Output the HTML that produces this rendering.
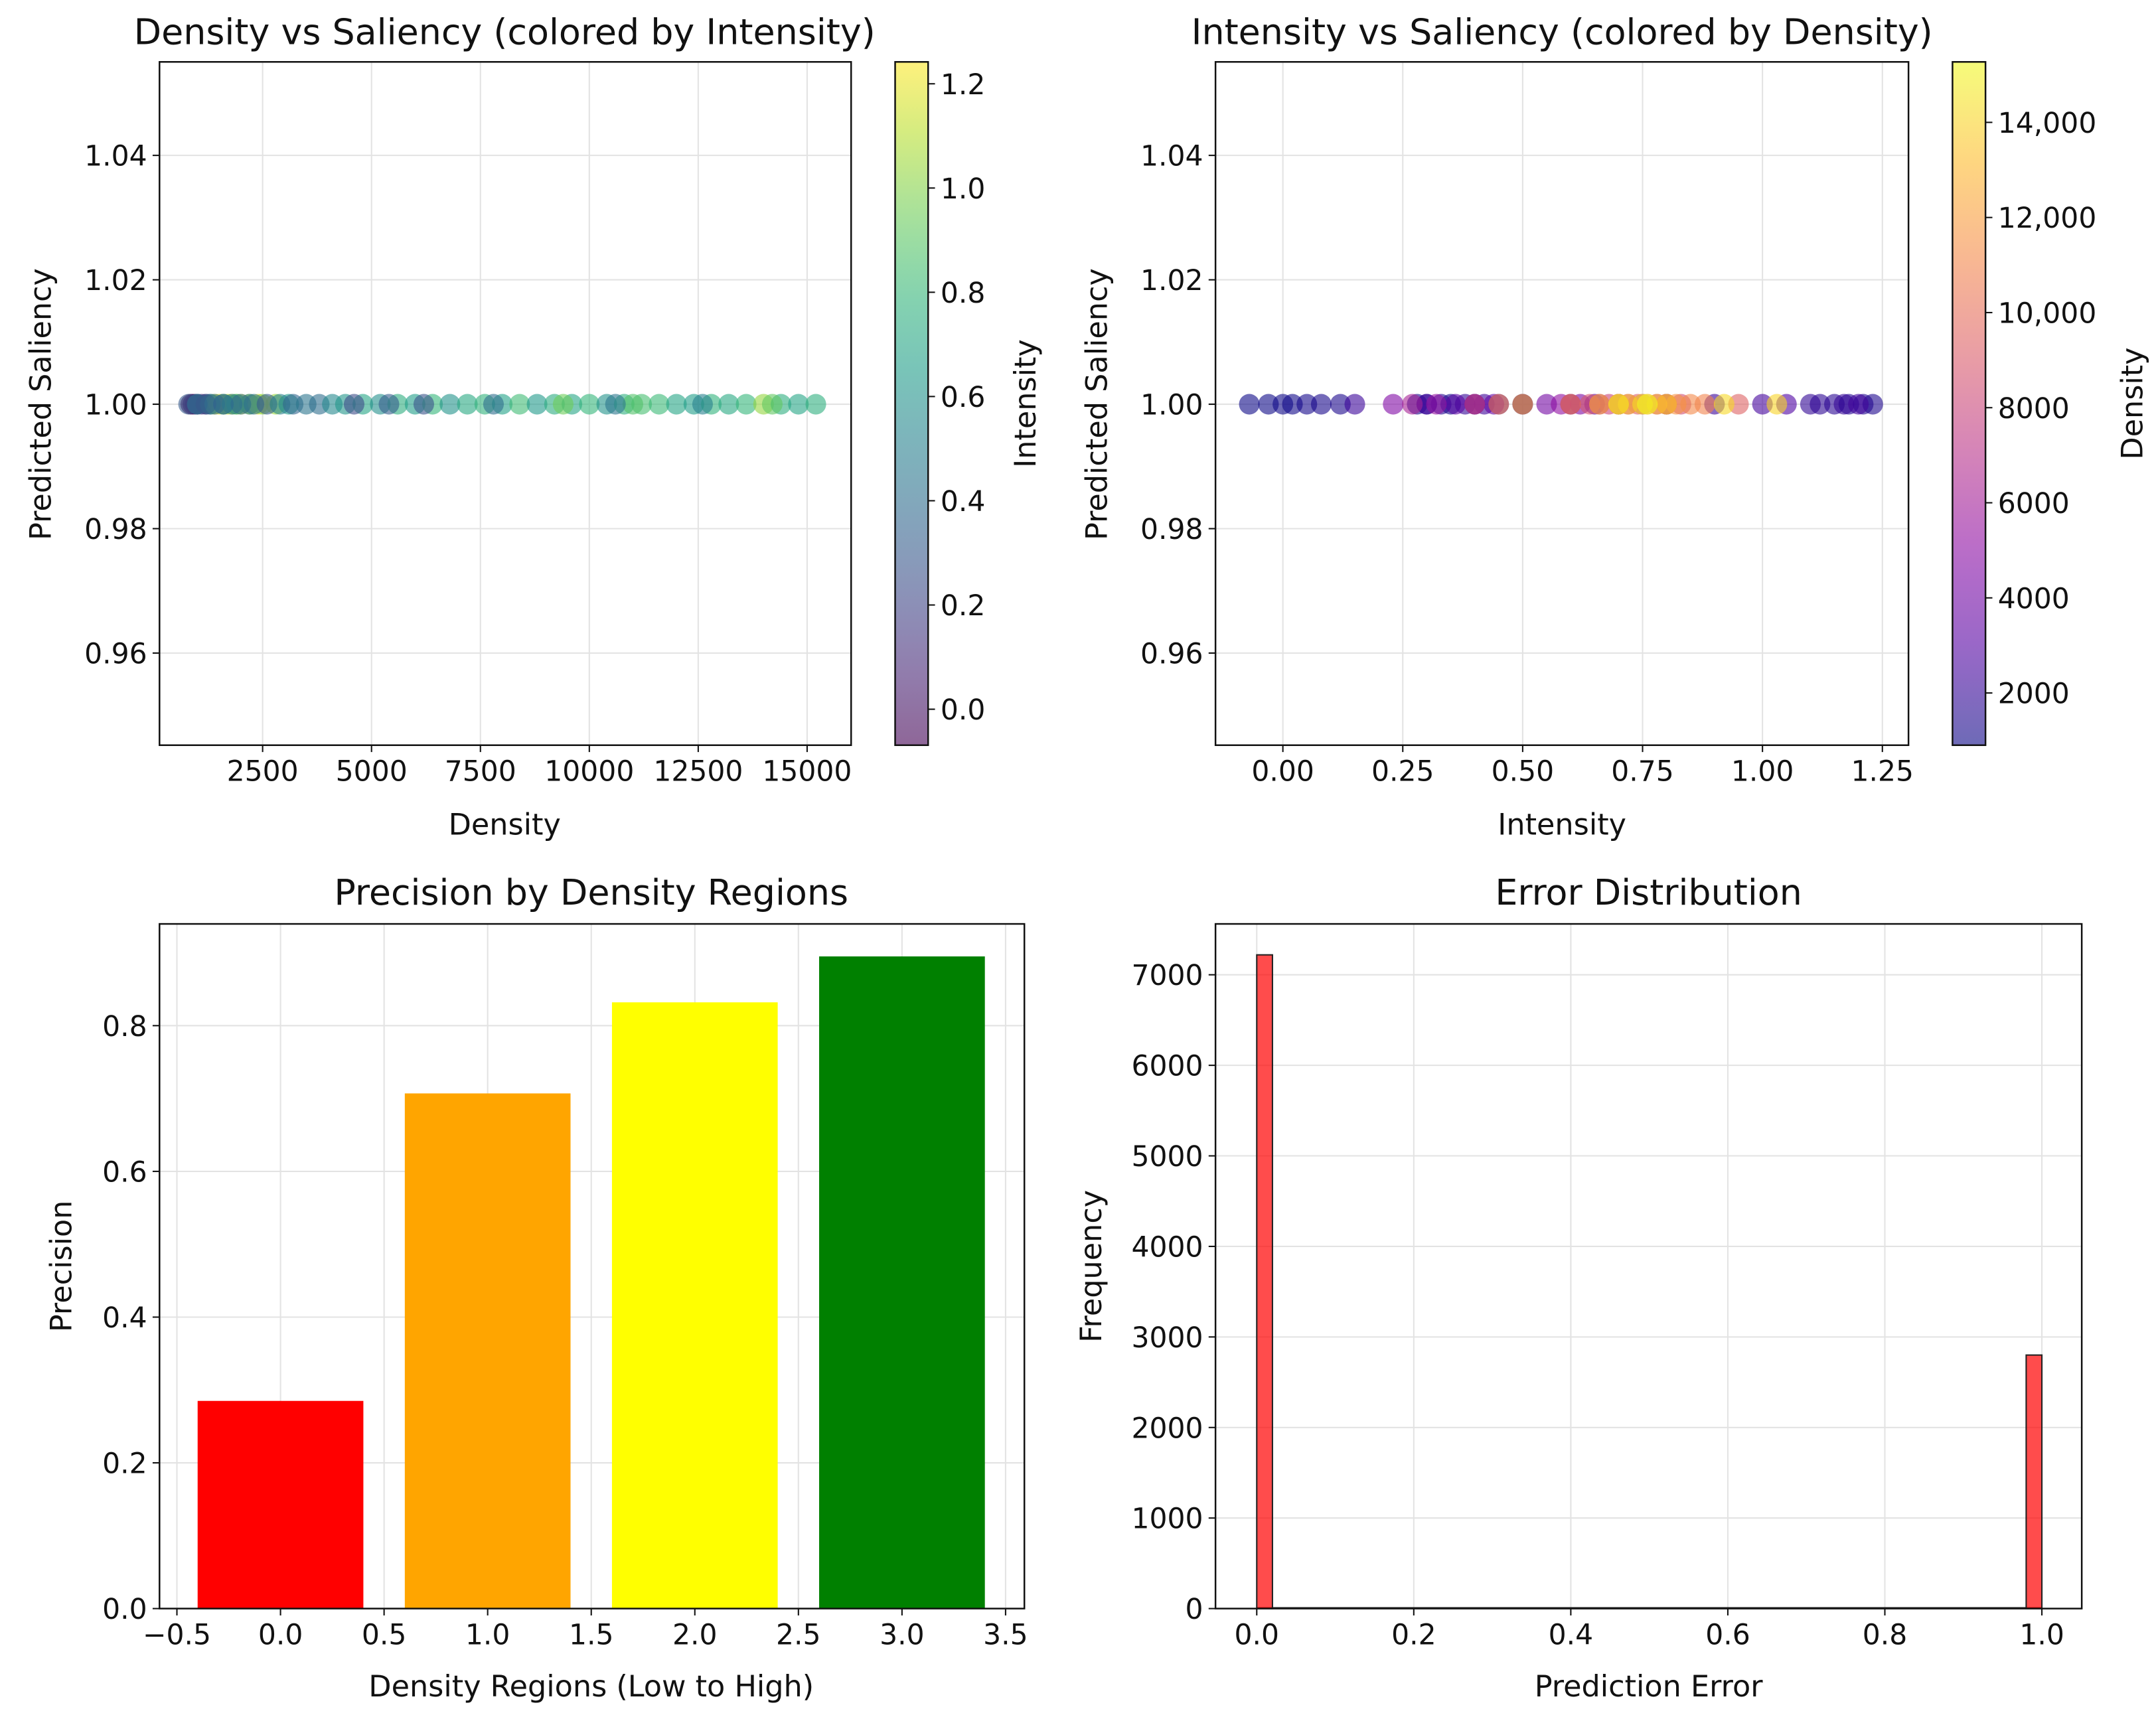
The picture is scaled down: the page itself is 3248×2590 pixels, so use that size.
<!DOCTYPE html>
<html><head><meta charset="utf-8"><style>
html,body{margin:0;padding:0;background:#fff}
svg{display:block}
text{font-family:"DejaVu Sans","Liberation Sans",sans-serif;fill:#111}
</style></head><body>
<svg id="fig" width="3248" height="2590" viewBox="0 0 1568 1250.3" xmlns="http://www.w3.org/2000/svg"></svg>
<script>
// ---- data ----
const densities = [850,900,950,1000,1100,1200,1300,1400,1500,1600,1700,1800,1900,2000,2200,2400,
  1000,1300,1600,1900,2200,2500,2800,3100,
  800,1000,1200,1400,1600,1800,2000,2300,2600,2900,3200,3500,3800,4100,
  4400,4800,5200,5600,6000,6400,6800,7200,7600,8000,8400,8800,9200,9600,10000,10400,10800,11200,11600,12000,12400,12800,13200,13600,14000,14400,14800,15200,
  4600,6200,7800,9400,11000,12600,14200,5400,10600];
const intensities = [-0.07,-0.03,0.0,0.02,0.05,0.08,0.12,1.23,1.21,1.18,1.15,1.12,1.1,1.17,0.15,1.2,
  0.5,0.6,0.7,0.8,0.9,1.0,1.05,0.65,
  0.3,0.35,0.28,0.4,0.33,0.45,0.38,0.42,0.3,0.5,0.36,0.44,0.4,0.55,
  0.62,0.7,0.58,0.75,0.66,0.8,0.6,0.72,0.78,0.68,0.83,0.64,0.74,0.7,0.8,0.6,0.76,0.85,0.82,0.7,0.66,0.78,0.72,0.8,1.03,0.75,0.7,0.76,
  0.23,0.27,0.4,0.95,0.88,0.5,0.92,0.32,0.45];
const precisionCats = [0,1,2,3];
const precisionVals = [0.285,0.707,0.832,0.895];
const precisionColors = ["#ff0000","#ffa500","#ffff00","#008000"];
const histEdgesStart = [0.0,0.98];
const histCounts = [7220,2800];
const p1XTicks = [2500,5000,7500,10000,12500,15000];
const p1YTicks = [0.96,0.98,1.00,1.02,1.04];
const cb1Ticks = [0.0,0.2,0.4,0.6,0.8,1.0,1.2];
const p2XTicks = [0,0.25,0.5,0.75,1.0,1.25];
const cb2Ticks = [2000,4000,6000,8000,10000,12000,14000];
const cb2Labels = ["2000","4000","6000","8000","10,000","12,000","14,000"];
const p3XTicks = [-0.5,0,0.5,1,1.5,2,2.5,3,3.5];
const p3YTicks = [0,0.2,0.4,0.6,0.8];
const p4XTicks = [0,0.2,0.4,0.6,0.8,1.0];
const p4YTicks = [0,1000,2000,3000,4000,5000,6000,7000];

const NS="http://www.w3.org/2000/svg";
const svg=document.getElementById('fig');
const TS=20.5, LS=21.5, HS=26;
function mk(tag,attrs,parent){const e=document.createElementNS(NS,tag);for(const k in attrs)e.setAttribute(k,attrs[k]);(parent||svg).appendChild(e);return e;}
function txt(s,x,y,size,anchor,parent,rot){const t=mk('text',{x:x,y:y,'font-size':size,'text-anchor':anchor||'middle'},parent);if(rot)t.setAttribute('transform',`rotate(${rot} ${x} ${y})`);t.textContent=s;return t;}
function lerpStops(stops,t){t=Math.max(0,Math.min(1,t));const n=stops.length-1;const i=Math.min(n-1,Math.floor(t*n));const f=t*n-i;const a=stops[i],b=stops[i+1];return `rgb(${Math.round(a[0]+(b[0]-a[0])*f)},${Math.round(a[1]+(b[1]-a[1])*f)},${Math.round(a[2]+(b[2]-a[2])*f)})`;}
const viridis=[[68,1,84],[72,40,120],[62,74,137],[49,104,142],[38,130,142],[31,158,137],[53,183,121],[109,205,89],[180,222,44],[253,231,37]];
const plasma=[[13,8,135],[84,2,163],[139,10,165],[185,50,137],[219,92,104],[244,136,73],[254,188,43],[240,249,33]];
function scale(d0,d1,r0,r1){return v=>r0+(v-d0)/(d1-d0)*(r1-r0);}
function fmt(v,d){return v.toFixed(d);}

function axesFrame(g,L,R,T,B,name){
  const r=mk('rect',{x:L,y:T,width:R-L,height:B-T,fill:'none',stroke:'#111','stroke-width':1.2},g);
  
  
}
function gridX(g,xs,T,B){xs.forEach(x=>mk('line',{x1:x,x2:x,y1:T,y2:B,stroke:'#e3e3e3','stroke-width':1},g));}
function gridY(g,ys,L,R){ys.forEach(y=>mk('line',{x1:L,x2:R,y1:y,y2:y,stroke:'#e3e3e3','stroke-width':1},g));}
function xTicks(g,vals,labels,sx,B){vals.forEach((v,i)=>{const x=sx(v);mk('line',{x1:x,x2:x,y1:B,y2:B+5,stroke:'#111','stroke-width':1},g);txt(labels[i],x,B+26,TS,'middle',g);});}
function yTicks(g,vals,labels,sy,L){vals.forEach((v,i)=>{const y=sy(v);mk('line',{x1:L-5,x2:L,y1:y,y2:y,stroke:'#111','stroke-width':1},g);txt(labels[i],L-9,y+7.5,TS,'end',g);});}
function colorbar(g,L,T,W,H,stops,vmin,vmax,ticks,labels,label,lx,name){
  const gid='grad'+name;
  const defs=mk('defs',{},g);const lg=mk('linearGradient',{id:gid,x1:0,y1:1,x2:0,y2:0},defs);
  for(let i=0;i<=20;i++){mk('stop',{offset:i/20,'stop-color':lerpStops(stops,i/20),'stop-opacity':0.6},lg);}
  const r=mk('rect',{x:L,y:T,width:W,height:H,fill:`url(#${gid})`,stroke:'#111','stroke-width':1.2},g);
  
  
  const sy=scale(vmin,vmax,T+H,T);
  ticks.forEach((v,i)=>{const y=sy(v);mk('line',{x1:L+W,x2:L+W+5,y1:y,y2:y,stroke:'#111','stroke-width':1},g);txt(labels[i],L+W+9,y+7.5,TS,'start',g);});
  const t=txt(label,lx,(T+T+H)/2,LS,'middle',g,-90);
  
  
}

// ---- Panel 1 ----
(function(){
  const g=mk('g',{});
  const L=116,R=619,T=45,B=542;
  const sx=scale(2500,15000,191,587), sy=scale(0.96,1.04,475,113);
  gridX(g,p1XTicks.map(sx),T,B);gridY(g,p1YTicks.map(sy),L,R);
  const cs=scale(-0.069,1.242,0,1);
  densities.forEach((d,i)=>{const c=mk('circle',{cx:sx(d),cy:sy(1.0),r:7.5,fill:lerpStops(viridis,cs(intensities[i])),'fill-opacity':0.6},g);
    
    });
  axesFrame(g,L,R,T,B,'plot-area-1');
  xTicks(g,p1XTicks,p1XTicks.map(String),sx,B);
  yTicks(g,p1YTicks,p1YTicks.map(v=>fmt(v,2)),sy,L);
  const t1=txt('Density vs Saliency (colored by Intensity)',367,32,HS,'middle',g);
  
  
  const x1=txt('Density',367,607,LS,'middle',g);
  
  
  const y1=txt('Predicted Saliency',37,294,LS,'middle',g,-90);
  
  
  colorbar(g,651,45,24,497,viridis,-0.069,1.242,cb1Ticks,cb1Ticks.map(v=>fmt(v,1)),'Intensity',753,'colorbar-intensity');
})();

// ---- Panel 2 ----
(function(){
  const g=mk('g',{});
  const L=884,R=1388,T=45,B=542;
  const sx=scale(0,1.25,933,1369), sy=scale(0.96,1.04,475,113);
  gridX(g,p2XTicks.map(sx),T,B);gridY(g,p1YTicks.map(sy),L,R);
  const cs=scale(902,15272,0,1);
  intensities.forEach((v,i)=>{const c=mk('circle',{cx:sx(v),cy:sy(1.0),r:7.5,fill:lerpStops(plasma,cs(densities[i])),'fill-opacity':0.6},g);
    
    });
  axesFrame(g,L,R,T,B,'plot-area-2');
  xTicks(g,p2XTicks,p2XTicks.map(v=>fmt(v,2)),sx,B);
  yTicks(g,p1YTicks,p1YTicks.map(v=>fmt(v,2)),sy,L);
  const t2=txt('Intensity vs Saliency (colored by Density)',1136,32,HS,'middle',g);
  
  
  const x2=txt('Intensity',1136,607,LS,'middle',g);
  
  
  const y2=txt('Predicted Saliency',805,294,LS,'middle',g,-90);
  
  
  colorbar(g,1420,45,24,497,plasma,902,15272,cb2Ticks,cb2Labels,'Density',1558,'colorbar-density');
})();

// ---- Panel 3 ----
(function(){
  const g=mk('g',{});
  const L=116,R=745,T=672,B=1170;
  const sx=scale(0,3,204,656), sy=scale(0,0.8,1170,746);
  gridX(g,p3XTicks.map(sx),T,B);gridY(g,p3YTicks.map(sy),L,R);
  precisionCats.forEach((c,i)=>{const x0=sx(c-0.4),x1=sx(c+0.4),y=sy(precisionVals[i]);
    const r=mk('rect',{x:x0,y:y,width:x1-x0,height:sy(0)-y,fill:precisionColors[i]},g);
    
    });
  axesFrame(g,L,R,T,B,'plot-area-3');
  xTicks(g,p3XTicks,p3XTicks.map(v=>fmt(v,1).replace('-','−')),sx,B);
  yTicks(g,p3YTicks,p3YTicks.map(v=>fmt(v,1)),sy,L);
  const t3=txt('Precision by Density Regions',430,658,HS,'middle',g);
  
  
  const x3=txt('Density Regions (Low to High)',430,1234,LS,'middle',g);
  
  
  const y3=txt('Precision',52,921,LS,'middle',g,-90);
  
  
})();

// ---- Panel 4 ----
(function(){
  const g=mk('g',{});
  const L=884,R=1514,T=672,B=1170;
  const sx=scale(0,1,914,1485), sy=scale(0,7000,1170,709);
  gridX(g,p4XTicks.map(sx),T,B);gridY(g,p4YTicks.map(sy),L,R);
  mk('line',{x1:sx(0),x2:sx(1),y1:B-0.5,y2:B-0.5,stroke:'#333','stroke-width':1.2},g);
  histEdgesStart.forEach((s,i)=>{const x0=sx(s),x1=sx(s+0.02),y=sy(histCounts[i]);
    const r=mk('rect',{x:x0,y:y,width:x1-x0,height:sy(0)-y,fill:'#ff0000','fill-opacity':0.7,stroke:'#222','stroke-width':1},g);
    
    });
  axesFrame(g,L,R,T,B,'plot-area-4');
  xTicks(g,p4XTicks,p4XTicks.map(v=>fmt(v,1)),sx,B);
  yTicks(g,p4YTicks,p4YTicks.map(String),sy,L);
  const t4=txt('Error Distribution',1199,658,HS,'middle',g);
  
  
  const x4=txt('Prediction Error',1199,1234,LS,'middle',g);
  
  
  const y4=txt('Frequency',801,921,LS,'middle',g,-90);
  
  
})();
</script>
</body></html>
